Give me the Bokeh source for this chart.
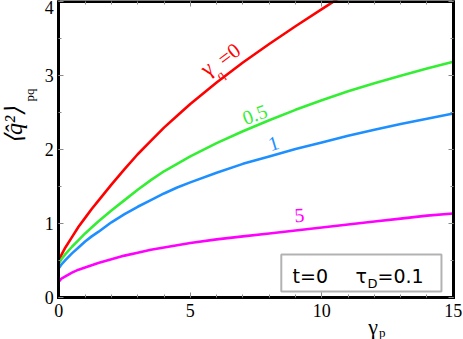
from bokeh.plotting import figure
from bokeh.models import (Label, BoxAnnotation, LinearAxis, SingleIntervalTicker, Range1d,
                          CustomJSTickFormatter)
from bokeh.embed import file_html
from bokeh.resources import INLINE

# ---- data ----
gp = [0, 0.1, 0.25, 0.5, 0.75, 1, 1.25, 1.5, 2, 2.5, 3, 3.5, 4, 4.5, 5, 6, 7, 8, 9, 10, 11, 12, 13, 14, 15]
q_g0 = [0.50, 0.58, 0.68, 0.82, 0.96, 1.08, 1.20, 1.31, 1.53, 1.74, 1.94, 2.12, 2.30, 2.46, 2.62, 2.91, 3.18, 3.43, 3.67, 3.90, 4.13]
q_g05 = [0.46, 0.52, 0.59, 0.69, 0.78, 0.87, 0.95, 1.03, 1.18, 1.32, 1.46, 1.59, 1.71, 1.81, 1.91, 2.09, 2.25, 2.40, 2.54, 2.67, 2.79, 2.90, 3.00, 3.10, 3.19]
q_g1 = [0.40, 0.45, 0.51, 0.60, 0.68, 0.76, 0.83, 0.89, 1.02, 1.13, 1.23, 1.32, 1.41, 1.49, 1.56, 1.69, 1.81, 1.91, 2.01, 2.10, 2.19, 2.27, 2.35, 2.42, 2.49]
q_g5 = [0.22, 0.26, 0.29, 0.34, 0.38, 0.41, 0.44, 0.47, 0.52, 0.57, 0.61, 0.65, 0.68, 0.71, 0.74, 0.79, 0.83, 0.87, 0.91, 0.95, 0.99, 1.03, 1.07, 1.11, 1.14]
curve_labels = ["0.5", "1", "5"]
colors = ["#ff0000", "#33ee33", "#1e8fff", "#ff00ff"]
X_MAX, Y_MAX = 15, 4

SERIF = "Liberation Serif"
SANS = "DejaVu Sans"

# frame covers the whole canvas; the visible axes box is drawn by fixed-location axes
p = figure(width=463, height=339, x_range=Range1d(-2.217, 15.388), y_range=Range1d(-0.5635, 4.0176),
           output_backend="svg", toolbar_location=None,
           x_axis_location=None, y_axis_location=None,
           min_border=0)
p.grid.visible = False
p.outline_line_color = None
p.background_fill_color = "white"
p.border_fill_color = "white"

def make_axis(interval, minor, loc, bounds, labels):
    ax = LinearAxis(ticker=SingleIntervalTicker(interval=interval, num_minor_ticks=minor),
                    fixed_location=loc, bounds=bounds)
    ax.axis_line_color = "black"
    ax.axis_line_width = 3
    ax.axis_line_cap = "square"
    ax.major_tick_in = 5
    ax.major_tick_out = 0
    ax.minor_tick_in = 3
    ax.minor_tick_out = 0
    ax.major_tick_line_color = "#8a8a8a"
    ax.minor_tick_line_color = "#8a8a8a"
    ax.major_label_text_font = SERIF
    ax.major_label_text_color = "black"
    ax.major_label_text_font_size = "18px"
    if not labels:
        ax.formatter = CustomJSTickFormatter(code="return ''")
        ax.major_label_standoff = 0
    return ax

bottom = make_axis(5, 5, 0, (0, X_MAX), True)
bottom.major_label_standoff = 6
top = make_axis(5, 5, Y_MAX, (0, X_MAX), False)
left = make_axis(1, 2, 0, (0, Y_MAX), True)
left.major_label_standoff = 5
right = make_axis(1, 2, X_MAX, (0, Y_MAX), False)
p.add_layout(bottom, "below")
p.add_layout(top, "above")
p.add_layout(left, "left")
p.add_layout(right, "right")

# curves
p.line(gp[:len(q_g0)], q_g0, line_color=colors[0], line_width=2.6)
p.line(gp, q_g05, line_color=colors[1], line_width=2.6)
p.line(gp, q_g1, line_color=colors[2], line_width=2.6)
p.line(gp, q_g5, line_color=colors[3], line_width=2.6)

def lab(x, y, t, size, color="black", angle=0, font=SERIF, align="center", style="normal"):
    p.add_layout(Label(x=x, y=y, text=t, text_font_size=size, text_color=color,
                       angle=angle, angle_units="deg", text_font=font,
                       text_align=align, text_baseline="middle", text_font_style=style))

# curve labels
lab(5.62, 3.10, "γ", "22px", colors[0], 37)
lab(6.14, 3.01, "q", "13px", colors[0], 37)
lab(6.47, 3.29, "=0", "21px", colors[0], 37)
lab(7.45, 2.48, curve_labels[0], "20px", colors[1], 20)
lab(8.16, 2.09, curve_labels[1], "20px", colors[2], 17)
lab(9.15, 1.12, curve_labels[2], "20px", colors[3], 3)

# info box
p.add_layout(BoxAnnotation(left=8.46, right=14.55, bottom=0.085, top=0.585,
                           fill_color="white", fill_alpha=1, line_color="black", line_width=2))
lab(8.89, 0.30, "t=0", "19px", font=SANS, align="left")
lab(11.28, 0.29, "τ", "19px", font=SANS, align="left")
lab(11.74, 0.20, "D", "13px", font=SANS, align="left")
lab(12.12, 0.30, "=0.1", "19px", font=SANS, align="left")

# axis titles
lab(-1.72, 2.33, "⟨q\u0302²⟩", "24px", angle=90, style="italic")
lab(-1.12, 2.74, "pq", "13px", angle=90)
lab(11.95, -0.39, "γ", "22px")
lab(12.30, -0.47, "p", "13px")

open("out.html", "w").write(file_html(p, INLINE))
